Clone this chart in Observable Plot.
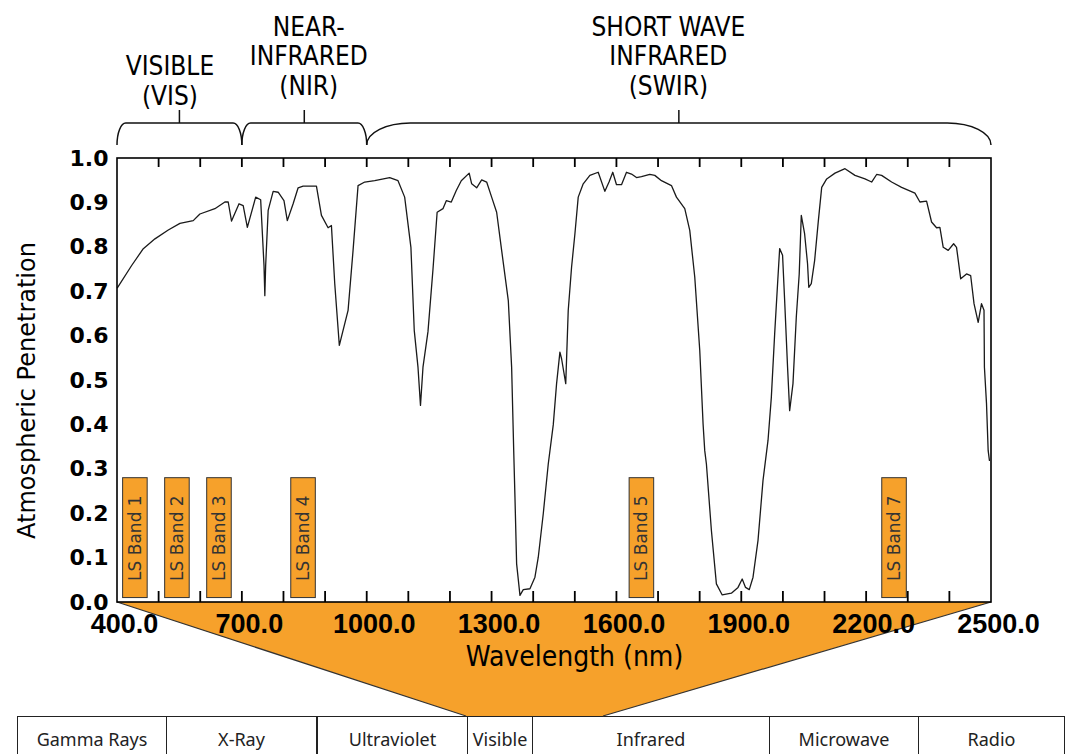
<!DOCTYPE html>
<html>
<head>
<meta charset="utf-8">
<script src="https://cdn.jsdelivr.net/npm/d3@7"></script>
<script src="https://cdn.jsdelivr.net/npm/@observablehq/plot@0.6"></script>
<style>
  html, body { margin: 0; padding: 0; background: #fff; }
  #chart svg { display: block; overflow: visible; }
  table.spectrum {
    border-collapse: collapse;
    margin-left: 17px;
    font-family: "Noto Sans", "DejaVu Sans", sans-serif;
    font-size: 18px;
    color: #222;
    table-layout: fixed;
  }
  table.spectrum td {
    border: 1px solid #222;
    height: 46px;
    padding: 0;
    text-align: center;
    vertical-align: top;
    line-height: 44px;
    white-space: nowrap;
  }
</style>
</head>
<body>
<div id="chart"></div>
<div id="strip"></div>
<script>
// Atmospheric penetration spectrum, 400–2500 nm
const wavelength = [
  400, 434, 462, 490, 522, 550, 582, 598, 634, 658, 666, 674, 692, 702, 712, 732, 744,
  752, 754, 756, 762, 774, 786, 800, 808, 822, 834, 846, 878, 890, 906, 914, 922, 933,
  954, 966, 978, 994, 1018, 1054, 1074, 1090, 1105, 1113, 1122, 1128, 1134, 1146, 1158,
  1168, 1182, 1190, 1202, 1214, 1226, 1245, 1251, 1263, 1275, 1287, 1299, 1311, 1323,
  1339, 1347, 1352, 1355, 1359, 1367, 1375, 1391, 1403, 1411, 1423, 1435, 1447, 1455,
  1463, 1467, 1477, 1483, 1491, 1499, 1507, 1519, 1535, 1555, 1571, 1581, 1590, 1599,
  1611, 1623, 1635, 1647, 1659, 1679, 1691, 1707, 1731, 1743, 1763, 1775, 1787, 1799,
  1807, 1811, 1815, 1827, 1839, 1853, 1875, 1891, 1901, 1909, 1918, 1927, 1939, 1951,
  1963, 1971, 1979, 1986, 1991, 1998, 2003, 2010, 2015, 2023, 2031, 2038, 2043, 2051,
  2058, 2061, 2067, 2075, 2084, 2092, 2104, 2124, 2148, 2172, 2196, 2212, 2224, 2236,
  2260, 2284, 2316, 2328, 2344, 2356, 2368, 2376, 2384, 2396, 2409, 2416, 2426, 2440,
  2450, 2458, 2468, 2476, 2482, 2483, 2488, 2492, 2495
];
const penetration = [
  0.709, 0.759, 0.797, 0.819, 0.839, 0.854, 0.860, 0.875, 0.887, 0.902, 0.902, 0.859, 0.898, 0.894, 0.845, 0.913, 0.907,
  0.759, 0.691, 0.759, 0.883, 0.926, 0.924, 0.905, 0.860, 0.898, 0.934, 0.938, 0.938, 0.872, 0.844, 0.849, 0.718, 0.579,
  0.658, 0.793, 0.939, 0.947, 0.950, 0.957, 0.950, 0.913, 0.800, 0.613, 0.530, 0.444, 0.530, 0.610, 0.750,
  0.879, 0.887, 0.905, 0.902, 0.928, 0.950, 0.967, 0.943, 0.934, 0.952, 0.947, 0.913, 0.879, 0.793,
  0.680, 0.530, 0.342, 0.237, 0.087, 0.016, 0.029, 0.031, 0.057, 0.102, 0.200, 0.312, 0.400, 0.493,
  0.564, 0.549, 0.493, 0.658, 0.755, 0.830, 0.913, 0.943, 0.962, 0.969, 0.926, 0.947, 0.969, 0.941,
  0.941, 0.969, 0.965, 0.957, 0.959, 0.964, 0.962, 0.950, 0.939, 0.913, 0.887, 0.838, 0.733, 0.568,
  0.402, 0.342, 0.312, 0.162, 0.042, 0.017, 0.021, 0.034, 0.053, 0.034, 0.029, 0.057, 0.140, 0.275,
  0.365, 0.462, 0.605, 0.718, 0.797, 0.782, 0.680, 0.530, 0.432, 0.493, 0.643, 0.740, 0.872, 0.830,
  0.763, 0.710, 0.718, 0.770, 0.860, 0.935, 0.954, 0.967, 0.977, 0.962, 0.954, 0.947, 0.964, 0.962,
  0.947, 0.935, 0.922, 0.902, 0.904, 0.857, 0.844, 0.845, 0.800, 0.793, 0.808, 0.800, 0.729, 0.740,
  0.736, 0.673, 0.631, 0.673, 0.658, 0.530, 0.448, 0.342, 0.320
];

// Axis ticks and labels
const xTickValues = [500, 600, 700, 800, 900, 1000, 1100, 1200, 1300, 1400, 1500, 1600, 1700, 1800, 1900, 2000, 2100, 2200, 2300, 2400];
const xLabelValues = [400, 700, 1000, 1300, 1600, 1900, 2200, 2500];
const yLabelValues = [0.0, 0.1, 0.2, 0.3, 0.4, 0.5, 0.6, 0.7, 0.8, 0.9, 1.0];

// Landsat bands (centre wavelength, nm)
const bandNames = ["LS Band 1", "LS Band 2", "LS Band 3", "LS Band 4", "LS Band 5", "LS Band 7"];
const bandCenters = [443, 544, 645, 847, 1660, 2267];

// Spectral regions bracketed above the chart
const regionNames = ["VISIBLE\n(VIS)", "NEAR-\nINFRARED\n(NIR)", "SHORT WAVE\nINFRARED\n(SWIR)"];
const regionStarts = [400, 700, 1000];
const regionEnds = [700, 1000, 2500];

// Electromagnetic spectrum strip
const spectrumNames = ["Gamma Rays", "X-Ray", "Ultraviolet", "Visible", "Infrared", "Microwave", "Radio"];

// ---- layout & style ----
const ORANGE = "#f6a12b";
const W = 1065, H = 716;
const M = {top: 158, right: 74, bottom: 114, left: 117};
const cellWidths = [149, 150, 150, 65, 237, 149, 146];
const stripLeft = 17;
const footSpan = 137;
const bandHalfWidth = 29.5;
const bandLow = 0.01, bandHigh = 0.28;
const tickBottomLen = 11, tickTopLen = 9;
const regionLabelDx = [-10, 4, -11];
const regionLabelDy = [-54, -64, -64];

const curve = wavelength.map((w, i) => ({w, p: penetration[i]}));
const bands = bandNames.map((name, i) => ({name, c: bandCenters[i]}));
const regions = regionNames.map((name, i) => ({name, start: regionStarts[i], end: regionEnds[i]}));

// Wedge linking the wavelength axis to the spectrum strip
function wedge(index, {x, y}, values, dims) {
  const visibleIdx = spectrumNames.indexOf("Visible");
  const footL = stripLeft + d3.sum(cellWidths.slice(0, visibleIdx));
  const footR = footL + footSpan;
  const x0 = x(xLabelValues[0]), x1 = x(xLabelValues[xLabelValues.length - 1]);
  const y0 = y(0), y1 = dims.height;
  const g = d3.create("svg:g");
  g.append("path")
    .attr("d", `M${x0},${y0}L${x1},${y0}L${footR},${y1}L${footL},${y1}Z`)
    .attr("fill", ORANGE);
  g.append("path")
    .attr("d", `M${x0},${y0}L${footL},${y1}M${x1},${y0}L${footR},${y1}`)
    .attr("fill", "none").attr("stroke", "#333").attr("stroke-width", 1.2);
  return g.node();
}

// Frame outline with inward ticks on its bottom and top edges
function frameWithTicks(index, {x}, values, dims) {
  const l = dims.marginLeft, r = dims.width - dims.marginRight;
  const t = dims.marginTop, b = dims.height - dims.marginBottom;
  const g = d3.create("svg:g").attr("fill", "none").attr("stroke", "#000");
  const ticks = d3.path();
  for (const v of xTickValues) {
    const px = x(v);
    ticks.moveTo(px, b); ticks.lineTo(px, b - tickBottomLen);
    ticks.moveTo(px, t); ticks.lineTo(px, t + tickTopLen);
  }
  g.append("path").attr("d", ticks.toString()).attr("stroke-width", 1.8);
  g.append("rect")
    .attr("x", l).attr("y", t).attr("width", r - l).attr("height", b - t)
    .attr("stroke-width", 1.6);
  return g.node();
}

// Curly brackets over the spectral regions
function brackets(index, {x}, values, dims) {
  const top = dims.marginTop;
  const yb = top - 13, yt = top - 35, yk = top - 48;
  const ry = yb - yt, k = 0.5523;
  const g = d3.create("svg:g")
    .attr("fill", "none").attr("stroke", "#111").attr("stroke-width", 1.5);
  for (const r of regions) {
    const a = x(r.start), b = x(r.end), rx = 0.07 * (b - a);
    const p = d3.path();
    p.moveTo(a, yb);
    p.bezierCurveTo(a, yb - k * ry, a + rx - k * rx, yt, a + rx, yt);
    p.lineTo(b - rx, yt);
    p.bezierCurveTo(b - rx + k * rx, yt, b, yb - k * ry, b, yb);
    const c = x((r.start + r.end) / 2);
    p.moveTo(c, yt);
    p.lineTo(c, yk);
    g.append("path").attr("d", p.toString());
  }
  return g.node();
}

const titleFont = "'DejaVu Sans Condensed', 'DejaVu Sans', sans-serif";

const chart = Plot.plot({
  width: W,
  height: H,
  marginTop: M.top,
  marginRight: M.right,
  marginBottom: M.bottom,
  marginLeft: M.left,
  x: {domain: [400, 2500], axis: null},
  y: {domain: [0, 1], axis: null},
  style: {background: "#fff", overflow: "visible"},
  marks: [
    wedge,
    Plot.rect(bands, {
      x1: d => d.c - bandHalfWidth, x2: d => d.c + bandHalfWidth,
      y1: bandLow, y2: bandHigh,
      fill: ORANGE, stroke: "#333", strokeWidth: 1
    }),
    Plot.text(bands, {
      x: "c", y: (bandLow + bandHigh) / 2, text: "name", rotate: -90,
      fontSize: 17, fontFamily: "'DejaVu Sans', sans-serif", fill: "#333"
    }),
    Plot.line(curve, {x: "w", y: "p", stroke: "#1a1a1a", strokeWidth: 1.3}),
    frameWithTicks,
    Plot.text(yLabelValues, {
      y: d => d, frameAnchor: "left", textAnchor: "end", lineAnchor: "middle", dx: -9,
      text: d => d.toFixed(1), fontSize: 22, fontWeight: "bold",
      fontFamily: "'DejaVu Sans', sans-serif", fill: "#000"
    }),
    Plot.text(xLabelValues, {
      x: d => d, frameAnchor: "bottom", lineAnchor: "middle", textAnchor: "middle",
      dy: 22, dx: 7,
      text: d => d.toFixed(1), fontSize: 27, fontWeight: "bold",
      fontFamily: "'Liberation Sans', Arial, sans-serif", fill: "#000"
    }),
    Plot.text(["Wavelength (nm)"], {
      frameAnchor: "bottom", lineAnchor: "middle", textAnchor: "middle",
      dy: 55, dx: 20, fontSize: 28,
      fontFamily: titleFont, fill: "#000"
    }),
    Plot.text(["Atmospheric Penetration"], {
      frameAnchor: "left", textAnchor: "middle", lineAnchor: "middle",
      rotate: -90, dx: -90, dy: 10, fontSize: 24,
      fontFamily: "'DejaVu Sans', sans-serif", fill: "#000"
    }),
    brackets,
    ...regions.map((r, i) => Plot.text([r], {
      x: d => (d.start + d.end) / 2, frameAnchor: "top", text: "name",
      textAnchor: "middle", lineAnchor: "bottom", lineHeight: 1.13,
      dx: regionLabelDx[i], dy: regionLabelDy[i],
      fontSize: 26, fontFamily: titleFont, fill: "#000"
    }))
  ]
});
document.getElementById("chart").append(chart);

// Spectrum strip below the chart
const table = d3.select("#strip").append("table").attr("class", "spectrum");
const row = table.append("tr");
spectrumNames.forEach((name, i) => {
  row.append("td")
    .style("width", `${cellWidths[i] - 1}px`)
    .style("border-left-width", name === "Ultraviolet" ? "2px" : null)
    .text(name);
});
</script>
</body>
</html>
